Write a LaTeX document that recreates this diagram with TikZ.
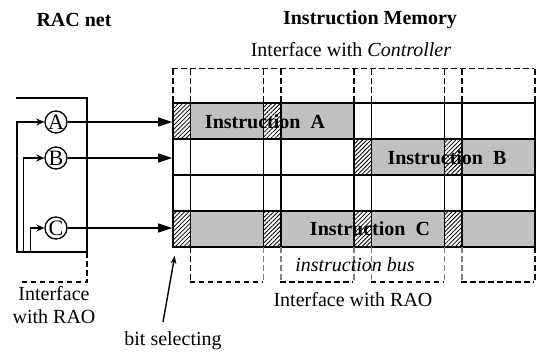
\documentclass[tikz,border=0pt]{standalone}
\usepackage{fontspec}
\setmainfont{Liberation Serif}
\usetikzlibrary{patterns.meta,arrows.meta}
\definecolor{wordgrey}{RGB}{192,192,192}
\begin{document}
\begin{tikzpicture}[x=1pt, y=-1pt,
  txt/.style={font=\fontsize{20}{23}\selectfont, inner sep=0pt, align=center},
  ttl/.style={font=\fontsize{20}{23}\selectfont\bfseries, inner sep=0pt},
  bitcell/.style={draw, line width=1.6pt, minimum width=17.5pt, minimum height=36pt, inner sep=0pt},
  wordcell/.style={draw, line width=1.6pt, minimum width=73pt, minimum height=36pt, inner sep=0pt},
  hatch/.style={fill=white, postaction={pattern={Lines[angle=45,distance=3pt,line width=0.8pt]}}},
  iface/.style={line width=1.4pt, dash pattern=on 5.5pt off 3.5pt},
  sig/.style={draw, circle, line width=1.3pt, minimum size=22pt, inner sep=0pt, font=\fontsize{22}{23}\selectfont}
]
\useasboundingbox (0,0) rectangle (542,354);
% titles
\node[ttl] (racnet) at (74,20) {RAC net};
\node[ttl] (memory) at (370,20) {Instruction Memory};
\node[txt] (ctrl) at (351,50) {Interface with \textit{Controller}};
% memory cells
\foreach \r in {1,...,4} {
  \foreach \g in {1,...,4} {
    \node[bitcell] (b\r\g) at (181.75+90.5*\g-90.5, 85+36*\r) {};
    \node[wordcell] (w\r\g) at (227+90.5*\g-90.5, 85+36*\r) {};
  }
}
\foreach \r/\g in {1/1,1/2,2/3,2/4,4/1,4/2,4/3,4/4} {
  \node[bitcell, hatch] at (b\r\g) {};
  \node[wordcell, fill=wordgrey] at (w\r\g) {};
}
\node[ttl] (insa) at (265,122) {Instruction~~A};
\node[ttl] (insb) at (447,158) {Instruction~~B};
\node[ttl] (insc) at (370,229) {Instruction~~C};
% interface with controller
\draw[iface] (b11.north west) ++(0,-34) -- ++(362,0);
\foreach \xx in {173,190.5,263.5,281,354,371.5,444.5,462,535}
  \draw[iface] (\xx,69) -- (\xx,103);
% instruction bus
\foreach \g in {1,...,4}
  \draw[iface] (w4\g.south west) ++(0,34) -- ++(73,0);
\foreach \xx/\c in {190.5/black,263.5/gray,281/gray,354/gray,371.5/gray,444.5/gray,462/gray,535/black}
  \draw[iface, draw=\c] (\xx,247) -- (\xx,281);
\node[txt, font=\fontsize{20}{23}\selectfont\itshape] (bus) at (355,265) {instruction bus};
\node[txt] (rao) at (353,300) {Interface with RAO};
% RAC net
\draw[line width=1.5pt] (16,98) -| (87,252) -- (16,252);
\draw[iface] (87,252) -- (87,282) -- (19,282);
\node[txt] (raoleft) at (54,305) {Interface\\with RAO};
\node[sig] (A) at (56,122) {A};
\node[sig] (B) at (56,158) {B};
\node[sig] (C) at (56,228) {C};
\coordinate (fa) at (17,252);
\coordinate (fb) at (23.5,252);
\coordinate (fc) at (30.5,252);
\foreach \f/\s in {fa/A,fb/B,fc/C}
  \draw[line width=1.4pt, -{Stealth[length=8pt,width=7pt]}] (\f) |- (\s);
\foreach \s/\b in {A/b11,B/b21,C/b41}
  \draw[line width=1.1pt, -{Triangle[length=14pt,width=9pt]}] (\s) -- (\s -| \b.west);
% bit selecting
\node[txt] (sel) at (173,341) {bit selecting};
\draw[line width=1.4pt, -{Stealth[length=8pt,width=6pt]}] (163,322) -- ([shift={(-7,8)}]b41.south);
\end{tikzpicture}
\end{document}
